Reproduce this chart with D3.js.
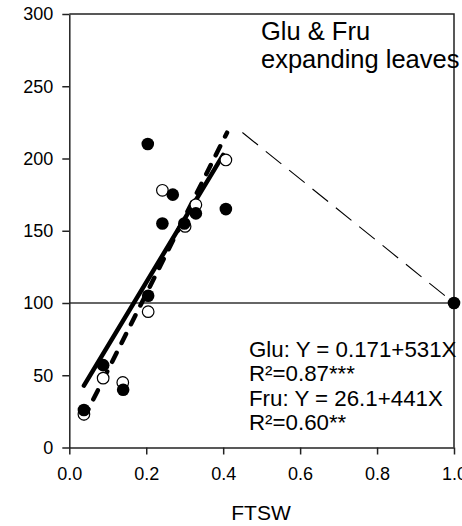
<!DOCTYPE html>
<html>
<head>
<meta charset="utf-8">
<script src="https://cdn.jsdelivr.net/npm/d3@7"></script>
<style>
  body { margin: 0; background: #fff; }
  svg text { font-family: "Liberation Sans", Arial, sans-serif; fill: #000; }
</style>
</head>
<body>
<svg id="chart" width="462" height="526"></svg>
<script>
// filled circles (Glu)
var gluX = [0.038, 0.088, 0.140, 0.204, 0.205, 0.242, 0.269, 0.299, 0.329, 0.407, 1.0];
var gluY = [26, 57, 40, 210, 105, 155, 175, 155, 162, 165, 100];
// open circles (Fru)
var fruX = [0.038, 0.088, 0.139, 0.205, 0.242, 0.301, 0.329, 0.407];
var fruY = [23, 48, 45, 94, 178, 153, 168, 199];

// regression: intercept, slope, x range
var gluFit = [0.171, 531, 0.038, 0.41];
var fruFit = [26.1, 441, 0.038, 0.40];
// declining segment after the break point
var declineX = [0.45, 1.0];
var declineY = [218, 100];

var xTicks = [0, 0.2, 0.4, 0.6, 0.8, 1.0];
var yTicks = [0, 50, 100, 150, 200, 250, 300];
var titleLines = ["Glu & Fru", "expanding leaves"];
var eqLines = ["Glu: Y = 0.171+531X", "R\u00b2=0.87***", "Fru: Y = 26.1+441X", "R\u00b2=0.60**"];

var svg = d3.select("#chart");
var mLeft = 69.3, mRight = 454, mTop = 14, mBottom = 447.5;

var x = d3.scaleLinear().domain([0, 1]).range([mLeft, mRight]);
var y = d3.scaleLinear().domain([0, 300]).range([mBottom, mTop]);

// frame
svg.append("path")
    .attr("d", "M" + mLeft + "," + mTop + "H" + mRight + "V" + mBottom)
    .attr("fill", "none").attr("stroke", "#222").attr("stroke-width", 1.5);

// reference line at 100
svg.append("line")
    .attr("x1", x(0)).attr("x2", x(1))
    .attr("y1", y(100)).attr("y2", y(100))
    .attr("stroke", "#333").attr("stroke-width", 1.3);

var yAxis = svg.append("g")
    .attr("transform", "translate(" + mLeft + ",0)")
    .call(d3.axisLeft(y).tickValues(yTicks).tickSize(7).tickSizeOuter(0).tickPadding(9));
var xAxis = svg.append("g")
    .attr("transform", "translate(0," + mBottom + ")")
    .call(d3.axisBottom(x).tickValues(xTicks).tickFormat(d3.format(".1f"))
        .tickSize(7).tickSizeOuter(0).tickPadding(13));
[yAxis, xAxis].forEach(function(a){
    a.selectAll("path,line").attr("stroke", "#222").attr("stroke-width", 1.5);
    a.selectAll("text").attr("font-size", 18).attr("font-family", "Liberation Sans, Arial, sans-serif");
});

// thin dashed decline
svg.append("line")
    .attr("x1", x(declineX[0])).attr("y1", y(declineY[0]))
    .attr("x2", x(declineX[1])).attr("y2", y(declineY[1]))
    .attr("stroke", "#000").attr("stroke-width", 1.1)
    .attr("stroke-dasharray", "20,10");

// regression lines
function fitLine(f, dash){
    svg.append("line")
        .attr("x1", x(f[2])).attr("y1", y(f[0] + f[1]*f[2]))
        .attr("x2", x(f[3])).attr("y2", y(f[0] + f[1]*f[3]))
        .attr("stroke", "#000").attr("stroke-width", 4.5)
        .attr("stroke-linecap", "round")
        .attr("stroke-dasharray", dash);
}
fitLine(fruFit, null);
fitLine(gluFit, "10,11");

// points
svg.append("g").selectAll("circle").data(fruX).join("circle")
    .attr("cx", function(d){ return x(d); })
    .attr("cy", function(d, i){ return y(fruY[i]); })
    .attr("r", 5.8)
    .attr("fill", "#fff").attr("stroke", "#000").attr("stroke-width", 1.2);
svg.append("g").selectAll("circle").data(gluX).join("circle")
    .attr("cx", function(d){ return x(d); })
    .attr("cy", function(d, i){ return y(gluY[i]); })
    .attr("r", 6.3)
    .attr("fill", "#000");

// title
svg.append("g").selectAll("text").data(titleLines).join("text")
    .attr("x", 261).attr("y", function(d, i){ return 40 + i*28; })
    .attr("font-size", 25.5)
    .text(function(d){ return d; });

// equations
svg.append("g").selectAll("text").data(eqLines).join("text")
    .attr("x", 249).attr("y", function(d, i){ return 357 + i*24.3; })
    .attr("font-size", 22.3)
    .text(function(d){ return d; });

svg.append("text")
    .attr("x", 261).attr("y", 520)
    .attr("text-anchor", "middle")
    .attr("font-size", 21)
    .text("FTSW");
</script>
</body>
</html>
